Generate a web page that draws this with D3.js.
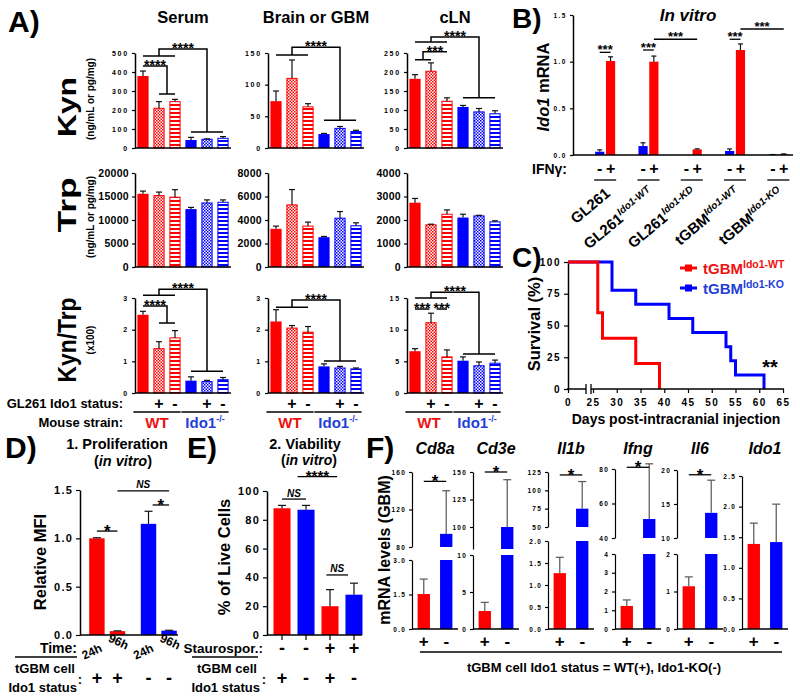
<!DOCTYPE html>
<html>
<head>
<meta charset="utf-8">
<script src="https://cdn.jsdelivr.net/npm/d3@7"></script>
<style>
  body { margin: 0; background: #fff; }
</style>
</head>
<body>
<script>
var FONT = "'Liberation Sans', Arial, Helvetica, sans-serif";
var RED = "#ff0000", BLUE = "#0000ff", TRED = "#f01010", TBLUE = "#1f3fd6";

// ---------- A) Kyn, Trp, Kyn/Trp (bars: WT, WT+, WT-, Ido1-/-, Ido1-/- +, Ido1-/- -)
var barGroups = ["WT", "WT +", "WT -", "KO", "KO +", "KO -"];
var kynSerum = [379, 209, 244, 42, 46, 51];
var kynSerumSem = [26, 35, 12, 14, 2, 9];
var kynBrain = [74, 110, 65, 22, 31, 26];
var kynBrainSem = [16, 29, 5, 1, 3, 2];
var kynCln = [182, 202, 123, 108, 95, 90];
var kynClnSem = [11, 22, 9, 4, 9, 8];
var trpSerum = [15580, 15200, 14860, 12320, 13630, 13770];
var trpSerumSem = [570, 740, 1590, 360, 650, 510];
var trpBrain = [3250, 5290, 3480, 2540, 4155, 3505];
var trpBrainSem = [230, 1300, 340, 60, 565, 255];
var trpCln = [2737, 1796, 2245, 2105, 2175, 1920];
var trpClnSem = [180, 25, 185, 140, 25, 45];
var ratioSerum = [2.47, 1.40, 1.74, 0.39, 0.36, 0.42];
var ratioSerumSem = [0.11, 0.22, 0.23, 0.12, 0.04, 0.07];
var ratioBrain = [2.26, 2.05, 1.92, 0.84, 0.79, 0.76];
var ratioBrainSem = [0.37, 0.08, 0.18, 0.08, 0.05, 0.03];
var ratioCln = [6.6, 11.1, 5.7, 5.1, 4.3, 4.7];
var ratioClnSem = [0.4, 1.5, 1.1, 0.6, 0.6, 0.5];

var kynTicks = [[0, 100, 200, 300, 400, 500], [0, 50, 100, 150], [0, 50, 100, 150, 200, 250]];
var trpTicks = [[0, 5000, 10000, 15000, 20000], [0, 2000, 4000, 6000, 8000], [0, 1000, 2000, 3000, 4000]];
var ratioTicks = [[0, 1, 2, 3], [0, 1, 2, 3], [0, 5, 10, 15]];
var colTitles = ["Serum", "Brain or GBM", "cLN"];

// significance brackets: group a (bar idx) at ya, group b at yb, joined at top
var kynBr = [
  [{a: [0, 2], ya: 484, b: [3, 5], yb: 84, top: 521, label: "****"},
   {a: [0, 0], ya: 432, b: [1, 2], yb: 284, top: 432, label: "****"}],
  [{a: [0, 2], ya: 147, b: [3, 5], yb: 44, top: 159, label: "****"}],
  [{a: [0, 2], ya: 279, b: [3, 5], yb: 132, top: 292, label: "****"},
   {a: [0, 1], ya: 232, b: [2, 2], yb: 253, top: 253, label: "***"}]
];
var trpBr = [[], [], []];
var ratioBr = [
  [{a: [0, 2], ya: 3.09, b: [3, 5], yb: 0.69, top: 3.28, label: "****"},
   {a: [0, 0], ya: 2.75, b: [1, 2], yb: 2.21, top: 2.75, label: "****"}],
  [{a: [0, 2], ya: 2.71, b: [3, 5], yb: 1.01, top: 2.94, label: "****"}],
  [{a: [0, 2], ya: 15, b: [3, 5], yb: 6.16, top: 15.9, label: "****"},
   {a: [0, 0], ya: 13.26, b: [0.9, 0.9], yb: 13.26, top: 13.26, label: "***"},
   {a: [1.35, 1.35], ya: 13.26, b: [2, 2], yb: 13.26, top: 13.26, label: "***"}]
];
var gl261Status = ["", "+", "-", "", "+", "-"];

// ---------- B) Ido1 mRNA in vitro
var cellBase = ["GL261", "GL261", "GL261", "tGBM", "tGBM"];
var cellSup = ["", "Ido1-WT", "Ido1-KD", "Ido1-WT", "Ido1-KO"];
var ifng = ["-", "+"];
var ido1Minus = [0.035, 0.096, 0, 0.043, 0.005];
var ido1MinusSem = [0.02, 0.035, 0, 0.022, 0];
var ido1Plus = [1.007, 1.0, 0.06, 1.125, 0.01];
var ido1PlusSem = [0.045, 0.06, 0.006, 0.065, 0.002];
var bBrackets = [
  {from: [0, "-"], to: [0, "+"], y: 1.10},
  {from: [1, "-"], to: [1, "+"], y: 1.125},
  {from: [1, "+"], to: [2, "+"], y: 1.24},
  {from: [3, "-"], to: [3, "+"], y: 1.24},
  {from: [3, "+"], to: [4, "+"], y: 1.35}
];

// ---------- C) survival
var survWTDays = [0, 26, 27, 34, 39];
var survWT = [100, 60, 40, 20, 0];
var survKODays = [0, 29, 34, 41, 46, 53, 54, 55, 61];
var survKO = [100, 77.8, 66.7, 55.6, 44.4, 33.3, 22.2, 11.1, 0];
var survXTicks = [0, 25, 30, 35, 40, 45, 50, 55, 60, 65];
var survYTicks = [0, 25, 50, 75, 100];

// ---------- D) proliferation
var dTime = ["24h", "96h", "24h", "96h"];
var dStatus = ["+", "+", "-", "-"];
var dMFI = [1.0, 0.04, 1.15, 0.045];
var dMFISem = [0.006, 0.003, 0.13, 0.004];
var dSig = [{a: 0, b: 1, y: 1.075, label: "*"}, {a: 1, b: 3, y: 1.49, label: "NS"}, {a: 2.2, b: 3, y: 1.345, label: "*"}];

// ---------- E) viability
var eStauro = ["-", "-", "+", "+"];
var eStatus = ["+", "-", "+", "-"];
var eLive = [88, 87, 20, 28];
var eLiveSem = [2, 3, 11.5, 8];
var eSig = [{a: 0, b: 1, y: 94.4, label: "NS"}, {a: 0.65, b: 2.3, y: 110, label: "****"}, {a: 1.85, b: 2.75, y: 41.7, label: "NS"}];

// ---------- F) mRNA levels in GBM
var fGenes = ["Cd8a", "Cd3e", "Il1b", "Ifng", "Il6", "Ido1"];
var fWT = [1.52, 2.43, 1.27, 1.23, 1.14, 1.39];
var fWTSem = [0.65, 1.17, 0.36, 0.32, 0.25, 0.34];
var fKO = [94, 100, 75, 51, 13.7, 1.42];
var fKOSem = [46, 43, 37, 32, 4.8, 0.62];
var fLowMax = [3, 10, 2, 4, 2, 2.5];
var fLowTicks = [[0, 1.5, 3], [0, 5, 10], [0, 0.5, 1, 1.5, 2], [0, 1, 2, 3, 4], [0, 1, 2], [0, 0.5, 1, 1.5, 2, 2.5]];
var fLowFmt = [".1f", "d", ".1f", "d", "d", ".1f"];
var fUpDom = [[80, 160], [80, 150], [50, 125], [40, 80], [10, 20], null];
var fUpTicks = [[80, 120, 160], [100, 125, 150], [50, 75, 100, 125], [40, 60, 80], [10, 15, 20], null];
var fSig = [150, 150, 121, 81, 19.3, null];

// ===================================================================
var svg = d3.select("body").append("svg")
  .attr("width", 800).attr("height", 700)
  .attr("font-family", FONT).attr("font-weight", "bold");

var defs = svg.append("defs");
[["r", RED], ["b", BLUE]].forEach(function(c) {
  var p = defs.append("pattern").attr("id", "chk" + c[0])
    .attr("patternUnits", "userSpaceOnUse").attr("width", 3).attr("height", 3);
  p.append("rect").attr("width", 3).attr("height", 3).attr("fill", "#fff");
  p.append("rect").attr("width", 1.5).attr("height", 1.5).attr("fill", c[1]);
  p.append("rect").attr("x", 1.5).attr("y", 1.5).attr("width", 1.5).attr("height", 1.5).attr("fill", c[1]);
  var s = defs.append("pattern").attr("id", "str" + c[0])
    .attr("patternUnits", "userSpaceOnUse").attr("width", 4).attr("height", 4);
  s.append("rect").attr("width", 4).attr("height", 4).attr("fill", "#fff");
  s.append("rect").attr("width", 4).attr("height", 2).attr("fill", c[1]);
});

function addText(x, y, str, size, anchor, color, rot) {
  var t = svg.append("text").attr("x", x).attr("y", y)
    .attr("font-size", size).attr("text-anchor", anchor || "start")
    .attr("fill", color || "#000").text(str);
  if (rot) t.attr("transform", "rotate(" + rot + "," + x + "," + y + ")");
  return t;
}

function styleAxis(ax, fs, ls) {
  ax.attr("font-family", FONT).attr("font-size", fs);
  ax.select(".domain").attr("stroke-width", 1.5);
  ax.selectAll(".tick line").attr("stroke-width", 1.2);
  ax.selectAll("text").attr("font-weight", "bold").attr("letter-spacing", ls || 0);
}

function hline(x1, x2, y, w, col) {
  return svg.append("line").attr("x1", x1).attr("x2", x2).attr("y1", y).attr("y2", y)
    .attr("stroke", col || "#000").attr("stroke-width", w || 1.5);
}

function errBar(g, cx, y0, y1, half, col) {
  g.append("line").attr("x1", cx).attr("x2", cx).attr("y1", y0).attr("y2", y1)
    .attr("stroke", col || "#111").attr("stroke-width", 1.2);
  g.append("line").attr("x1", cx - half).attr("x2", cx + half).attr("y1", y1).attr("y2", y1)
    .attr("stroke", col || "#111").attr("stroke-width", 1.2);
}

// ================= A =================
addText(8, 32, "A)", 30);
var colX = [135, 268, 407], chartW = 96;
var rowTop = [53, 173, 298], rowBot = [148, 267, 393];
var rowsA = [
  {label: "Kyn", sub: "(ng/mL or pg/mg)", mid: 107, len: 60, subMid: 99,
   data: [[kynSerum, kynSerumSem], [kynBrain, kynBrainSem], [kynCln, kynClnSem]],
   ticks: kynTicks, br: kynBr, fs: 7, ls: 1.8},
  {label: "Trp", sub: "(ng/mL or pg/mg)", mid: 205, len: 55, subMid: 217,
   data: [[trpSerum, trpSerumSem], [trpBrain, trpBrainSem], [trpCln, trpClnSem]],
   ticks: trpTicks, br: trpBr, fs: 10.5, ls: 0.3},
  {label: "Kyn/Trp", sub: "(x100)", mid: 340, len: 85, subMid: 340,
   data: [[ratioSerum, ratioSerumSem], [ratioBrain, ratioBrainSem], [ratioCln, ratioClnSem]],
   ticks: ratioTicks, br: ratioBr, fs: 7, ls: 1.8}
];

colTitles.forEach(function(t, c) {
  addText(colX[c] + chartW / 2, 23, t, 16.5, "middle");
});

rowsA.forEach(function(row, r) {
  addText(76, row.mid, row.label, 25, "middle", "#000", -90)
    .attr("textLength", row.len).attr("lengthAdjust", "spacingAndGlyphs");
  addText(94, row.subMid, row.sub, 10, "middle", "#000", -90);

  row.data.forEach(function(d, c) {
    var x = d3.scaleBand().domain(d3.range(6))
      .range([colX[c], colX[c] + chartW]).paddingInner(0.3).paddingOuter(0.15);
    var tk = row.ticks[c];
    var y = d3.scaleLinear().domain([0, tk[tk.length - 1]]).range([rowBot[r], rowTop[r]]);
    var g = svg.append("g");
    var bw = x.bandwidth();
    var cx = function(i) { return x(0) + i * x.step() + bw / 2; };

    g.selectAll("rect").data(d[0]).join("rect")
      .attr("x", function(v, i) { return x(i) + (i % 3 ? 0.5 : 0); })
      .attr("width", function(v, i) { return bw - (i % 3 ? 1 : 0); })
      .attr("y", function(v) { return y(v); })
      .attr("height", function(v) { return y(0) - y(v); })
      .attr("fill", function(v, i) {
        var k = i < 3 ? "r" : "b";
        if (i % 3 === 0) return i < 3 ? RED : BLUE;
        return "url(#" + (i % 3 === 1 ? "chk" : "str") + k + ")";
      })
      .attr("stroke", function(v, i) { return i % 3 ? (i < 3 ? RED : BLUE) : "none"; })
      .attr("stroke-width", 1);

    d[0].forEach(function(v, i) {
      errBar(g, cx(i), y(v), y(v + d[1][i]), 3);
    });

    var ax = g.append("g").attr("transform", "translate(" + colX[c] + ",0)")
      .call(d3.axisLeft(y).tickValues(tk).tickFormat(d3.format("d"))
        .tickSize(3).tickSizeOuter(0).tickPadding(3));
    styleAxis(ax, row.fs, row.ls);
    hline(colX[c], colX[c] + chartW, rowBot[r]);

    // brackets
    row.br[c].forEach(function(b) {
      var a0 = cx(b.a[0]), a1 = cx(b.a[1]), b0 = cx(b.b[0]), b1 = cx(b.b[1]);
      var ma = (a0 + a1) / 2, mb = (b0 + b1) / 2;
      var p = "M" + a0 + "," + y(b.ya) + "H" + a1 +
        "M" + ma + "," + y(b.ya) + "V" + y(b.top) + "H" + mb + "V" + y(b.yb) +
        "M" + b0 + "," + y(b.yb) + "H" + b1;
      g.append("path").attr("d", p).attr("fill", "none")
        .attr("stroke", "#000").attr("stroke-width", 1.5);
      addText((ma + mb) / 2, y(b.top) + 4, b.label, 14, "middle");
    });

    if (r === 2) {
      gl261Status.forEach(function(s, i) {
        if (s) addText(cx(i), 409, s, 16, "middle");
      });
      hline(x(0) - 4, x(2) + bw, 412, 1.3);
      hline(x(3) - 4, x(5) + bw, 412, 1.3);
      addText((x(0) + x(2) + bw) / 2 - 2, 428, "WT", 15, "middle", TRED);
      var ko = addText((x(3) + x(5) + bw) / 2 - 2, 428, "", 15, "middle", TBLUE);
      ko.append("tspan").text("Ido1");
      ko.append("tspan").attr("dy", -6).attr("font-size", 9).text("-/-");
    }
  });
});
addText(123, 408, "GL261 Ido1 status:", 13, "end");
addText(123, 427, "Mouse strain:", 13, "end");

// ================= B =================
addText(512, 28, "B)", 28);
var bx = d3.scaleBand().domain(d3.range(5)).range([583.5, 800]);
var bIn = d3.scaleBand().domain(ifng).range([bx.bandwidth() / 2 - 10, bx.bandwidth() / 2 + 10])
  .paddingInner(0.15).paddingOuter(0);
var by = d3.scaleLinear().domain([0, 1.5]).range([155, 15]);
var gB = svg.append("g");
function bCx(gi, k) { return bx(gi) + bIn(k) + bIn.bandwidth() / 2; }
[[ido1Minus, ido1MinusSem, "-", BLUE, "bm"], [ido1Plus, ido1PlusSem, "+", RED, "bp"]].forEach(function(s) {
  gB.selectAll("rect." + s[4]).data(s[0]).join("rect").attr("class", s[4])
    .attr("x", function(v, i) { return bx(i) + bIn(s[2]); })
    .attr("width", bIn.bandwidth())
    .attr("y", function(v) { return by(v); })
    .attr("height", function(v) { return by(0) - by(v); })
    .attr("fill", s[3]);
  s[0].forEach(function(v, i) {
    if (v > 0) errBar(gB, bCx(i, s[2]), by(v), by(v + s[1][i]), 2.5);
  });
});
var axB = gB.append("g").attr("transform", "translate(573,0)")
  .call(d3.axisLeft(by).tickValues([0, 0.5, 1, 1.5]).tickFormat(d3.format(".1f")).tickSize(3).tickSizeOuter(0));
styleAxis(axB, 6.5, 1.5);
hline(573, 793, 155);
bBrackets.forEach(function(b) {
  var x1 = bCx(b.from[0], b.from[1]), x2 = bCx(b.to[0], b.to[1]);
  hline(x1, x2, by(b.y), 1.3);
  addText((x1 + x2) / 2, by(b.y) + 2, "***", 13, "middle");
});
addText(688, 21, "In vitro", 17, "middle").attr("font-style", "italic");
var bl = addText(549, 87, "", 16.5, "middle", "#000", -90);
bl.append("tspan").attr("font-style", "italic").text("Ido1");
bl.append("tspan").text(" mRNA");
addText(567, 174, "IFN\u03b3:", 14, "end");
d3.range(5).forEach(function(i) {
  ifng.forEach(function(k) { addText(bCx(i, k), 174, k, 16, "middle"); });
  var c = bx(i) + bx.bandwidth() / 2;
  hline(c - 11, c + 11, 180, 1.3);
  var t = addText(c + 6, 195, "", 15, "end", "#000", -40);
  t.append("tspan").text(cellBase[i]);
  if (cellSup[i]) t.append("tspan").attr("dy", -6).attr("font-size", 10)
    .attr("font-style", "italic").text(cellSup[i]);
});

// ================= C =================
addText(512, 267, "C)", 28);
var sx = d3.scaleLinear().domain([0, 25, 65]).range([568, 593, 783]);
var sy = d3.scaleLinear().domain([0, 100]).range([389, 262]);
var gC = svg.append("g");
var axCy = gC.append("g").attr("transform", "translate(568,0)")
  .call(d3.axisLeft(sy).tickValues(survYTicks).tickSize(4).tickSizeOuter(0));
styleAxis(axCy, 10, 1.5);
var axCx = gC.append("g").attr("transform", "translate(0,389)")
  .call(d3.axisBottom(sx).tickValues(survXTicks).tickSize(4).tickPadding(6));
styleAxis(axCx, 10, 1.5);
axCx.select(".domain").remove();
hline(567, 586, 389);
hline(591, 784, 389);
[586, 591].forEach(function(v) {
  gC.append("line").attr("x1", v).attr("x2", v).attr("y1", 384).attr("y2", 394)
    .attr("stroke", "#000").attr("stroke-width", 1.3);
});
var step = d3.line().curve(d3.curveStepAfter)
  .x(function(d) { return sx(d[0]); }).y(function(d) { return sy(d[1]); });
gC.append("path").datum(d3.zip(survKODays, survKO)).attr("d", step)
  .attr("fill", "none").attr("stroke", BLUE).attr("stroke-width", 3);
gC.append("path").datum(d3.zip(survWTDays, survWT)).attr("d", step)
  .attr("fill", "none").attr("stroke", RED).attr("stroke-width", 3);
addText(770, 374, "**", 20, "middle");
addText(540, 324, "Survival (%)", 16.5, "middle", "#000", -90);
addText(676, 424, "Days post-intracranial injection", 14, "middle");
[["Ido1-WT", RED, TRED, 268], ["Ido1-KO", BLUE, TBLUE, 288]].forEach(function(l) {
  hline(680, 697, l[3], 3, l[1]);
  svg.append("rect").attr("x", 685).attr("y", l[3] - 3.5).attr("width", 7).attr("height", 7).attr("fill", l[1]);
  var t = addText(703, l[3] + 6, "", 15, "start", l[2]);
  t.append("tspan").text("tGBM");
  t.append("tspan").attr("dy", -6).attr("font-size", 10.5).text(l[0]);
});

// ================= D =================
addText(5, 458, "D)", 30);
addText(117, 449, "1. Proliferation", 14.5, "middle");
var dt = addText(123, 466, "", 14.5, "middle");
dt.append("tspan").text("(");
dt.append("tspan").attr("font-style", "italic").text("in vitro");
dt.append("tspan").text(")");
var dOut = d3.scaleBand().domain(["+", "-"]).range([84, 182]).paddingInner(0.1);
var dIn = d3.scaleBand().domain(["24h", "96h"])
  .range([dOut.bandwidth() / 2 - 18, dOut.bandwidth() / 2 + 18]).paddingInner(0.25);
var dy = d3.scaleLinear().domain([0, 1.5]).range([635, 490]);
function dCx(i) { return dOut(dStatus[i]) + dIn(dTime[i]) + dIn.bandwidth() / 2; }
function dPos(f) { var i = Math.floor(f), j = Math.min(i + 1, 3); return dCx(i) + (dCx(j) - dCx(i)) * (f - i); }
var gD = svg.append("g");
gD.selectAll("rect").data(dMFI).join("rect")
  .attr("x", function(v, i) { return dCx(i) - dIn.bandwidth() / 2; })
  .attr("width", dIn.bandwidth())
  .attr("y", function(v) { return dy(v); })
  .attr("height", function(v) { return dy(0) - dy(v); })
  .attr("fill", function(v, i) { return dStatus[i] === "+" ? RED : BLUE; });
dMFI.forEach(function(v, i) { errBar(gD, dCx(i), dy(v), dy(v + dMFISem[i]), 4); });
var axD = gD.append("g").attr("transform", "translate(80,0)")
  .call(d3.axisLeft(dy).tickValues([0, 0.5, 1, 1.5]).tickFormat(d3.format(".1f")).tickSize(4).tickSizeOuter(0));
styleAxis(axD, 11, 1.2);
hline(80, 178, 635);
dSig.forEach(function(s) {
  var x1 = dPos(s.a), x2 = dPos(s.b);
  hline(x1, x2, dy(s.y), 1.3);
  if (s.label === "NS") addText((x1 + x2) / 2, dy(s.y) - 2.5, "NS", 10, "middle").attr("font-style", "italic");
  else addText((x1 + x2) / 2, dy(s.y) + 6, s.label, 17, "middle");
});
addText(46, 562, "Relative MFI", 16.5, "middle", "#000", -90);
addText(77, 653, "Time:", 14, "end");
hline(15, 77, 657, 1.3);
dTime.forEach(function(t, i) {
  if (t === "24h") addText(dCx(i) + 6, 651, t, 12, "end", "#000", -25);
  else addText(dCx(i) - 10, 641, t, 12, "start", "#000", 25);
  addText(dCx(i), 684, dStatus[i], 18, "middle");
});
addText(75, 673, "tGBM cell", 13, "end");
addText(77, 692, "Ido1 status", 13, "end");
addText(80, 684, ":", 13, "middle");

// ================= E =================
addText(187, 458, "E)", 30);
addText(305, 449, "2. Viability", 14.5, "middle");
var et = addText(309, 465, "", 14, "middle");
et.append("tspan").text("(");
et.append("tspan").attr("font-style", "italic").text("in vitro");
et.append("tspan").text(")");
var ex = d3.scaleBand().domain(d3.range(4)).range([273.5, 362.5]).paddingInner(0.29).paddingOuter(0);
var ey = d3.scaleLinear().domain([0, 100]).range([635, 491]);
function eCx(i) { return ex(i) + ex.bandwidth() / 2; }
function ePos(f) { return eCx(0) + f * ex.step(); }
var gE = svg.append("g");
gE.selectAll("rect").data(eLive).join("rect")
  .attr("x", function(v, i) { return ex(i); })
  .attr("width", ex.bandwidth())
  .attr("y", function(v) { return ey(v); })
  .attr("height", function(v) { return ey(0) - ey(v); })
  .attr("fill", function(v, i) { return eStatus[i] === "+" ? RED : BLUE; });
eLive.forEach(function(v, i) { errBar(gE, eCx(i), ey(v), ey(v + eLiveSem[i]), 4); });
var axE = gE.append("g").attr("transform", "translate(267,0)")
  .call(d3.axisLeft(ey).tickValues([0, 20, 40, 60, 80, 100]).tickSize(4).tickSizeOuter(0));
styleAxis(axE, 11, 1.2);
hline(267, 362, 635);
d3.range(4).forEach(function(i) {
  gE.append("line").attr("x1", eCx(i)).attr("x2", eCx(i)).attr("y1", 635).attr("y2", 640)
    .attr("stroke", "#000").attr("stroke-width", 1.2);
  addText(eCx(i), 654, eStauro[i], 18, "middle");
  addText(eCx(i), 684, eStatus[i], 18, "middle");
});
eSig.forEach(function(s) {
  var x1 = ePos(s.a), x2 = ePos(s.b);
  hline(x1, x2, ey(s.y), 1.3);
  if (s.label === "NS") addText((x1 + x2) / 2, ey(s.y) - 2.5, "NS", 10, "middle").attr("font-style", "italic");
  else addText((x1 + x2) / 2, ey(s.y) + 4, s.label, 15, "middle");
});
addText(230, 557, "% of Live Cells", 16.5, "middle", "#000", -90);
addText(263, 653, "Staurospor.:", 13.5, "end");
hline(192, 258, 657, 1.3);
addText(257, 673, "tGBM cell", 13, "end");
addText(260, 692, "Ido1 status", 13, "end");
addText(264, 684, ":", 13, "middle");

// ================= F =================
addText(366, 458, "F)", 30);
addText(390, 550, "mRNA levels (GBM)", 16, "middle", "#000", -90);
var fAxisX = [412, 473, 548, 615, 677, 742];
var fLowTop = [560, 555, 541, 554, 554, 476];
var fUpBot = [547, 549, 527, 538, 538];
var fUpTop = [472, 472, 472, 469, 470];
var fBase = 629;
fGenes.forEach(function(gene, k) {
  var g = svg.append("g");
  var x0 = fAxisX[k];
  var x = d3.scaleBand().domain(["+", "-"]).range([x0, x0 + 46]).paddingInner(0.45).paddingOuter(0.25);
  var bw = x.bandwidth();
  var cxp = x("+") + bw / 2, cxm = x("-") + bw / 2;
  var yl = d3.scaleLinear().domain([0, fLowMax[k]]).range([fBase, fLowTop[k]]);
  var yu = fUpDom[k] ? d3.scaleLinear().domain(fUpDom[k]).range([fUpBot[k], fUpTop[k]]) : null;

  // WT (+) bar
  g.append("rect").attr("x", x("+")).attr("width", bw)
    .attr("y", yl(fWT[k])).attr("height", fBase - yl(fWT[k])).attr("fill", RED);
  errBar(g, cxp, yl(fWT[k]), yl(fWT[k] + fWTSem[k]), 4, "#555");
  // KO (-) bar, split when the axis is broken
  if (yu) {
    g.append("rect").attr("x", x("-")).attr("width", bw)
      .attr("y", fLowTop[k]).attr("height", fBase - fLowTop[k]).attr("fill", BLUE);
    g.append("rect").attr("x", x("-")).attr("width", bw)
      .attr("y", yu(fKO[k])).attr("height", fUpBot[k] - yu(fKO[k])).attr("fill", BLUE);
    errBar(g, cxm, yu(fKO[k]), yu(fKO[k] + fKOSem[k]), 4, "#555");
    var au = g.append("g").attr("transform", "translate(" + x0 + ",0)")
      .call(d3.axisLeft(yu).tickValues(fUpTicks[k]).tickFormat(d3.format("d")).tickSize(3).tickSizeOuter(0));
    styleAxis(au, 6.5, 1.2);
    au.select(".domain").attr("stroke-width", 1.2);
    var ys = yu(fSig[k]);
    g.append("line").attr("x1", cxp).attr("x2", cxm).attr("y1", ys).attr("y2", ys)
      .attr("stroke", "#000").attr("stroke-width", 1.3);
    addText((cxp + cxm) / 2, ys + 6, "*", 17, "middle");
  } else {
    g.append("rect").attr("x", x("-")).attr("width", bw)
      .attr("y", yl(fKO[k])).attr("height", fBase - yl(fKO[k])).attr("fill", BLUE);
    errBar(g, cxm, yl(fKO[k]), yl(fKO[k] + fKOSem[k]), 4, "#555");
  }
  var al = g.append("g").attr("transform", "translate(" + x0 + ",0)")
    .call(d3.axisLeft(yl).tickValues(fLowTicks[k]).tickFormat(d3.format(fLowFmt[k])).tickSize(3).tickSizeOuter(0));
  styleAxis(al, 6.5, 1.2);
  al.select(".domain").attr("stroke-width", 1.2);
  g.append("line").attr("x1", x0).attr("x2", x0 + 46).attr("y1", fBase).attr("y2", fBase)
    .attr("stroke", "#000").attr("stroke-width", 1.3);
  addText(x0 + 23, 454, gene, 16, "middle").attr("font-style", "italic");
  addText(cxp, 647, "+", 17, "middle");
  addText(cxm, 647, "-", 17, "middle");
});
hline(420, 782, 652, 1.3);
addText(594, 672, "tGBM cell Ido1 status = WT(+), Ido1-KO(-)", 13, "middle");
</script>
</body>
</html>
